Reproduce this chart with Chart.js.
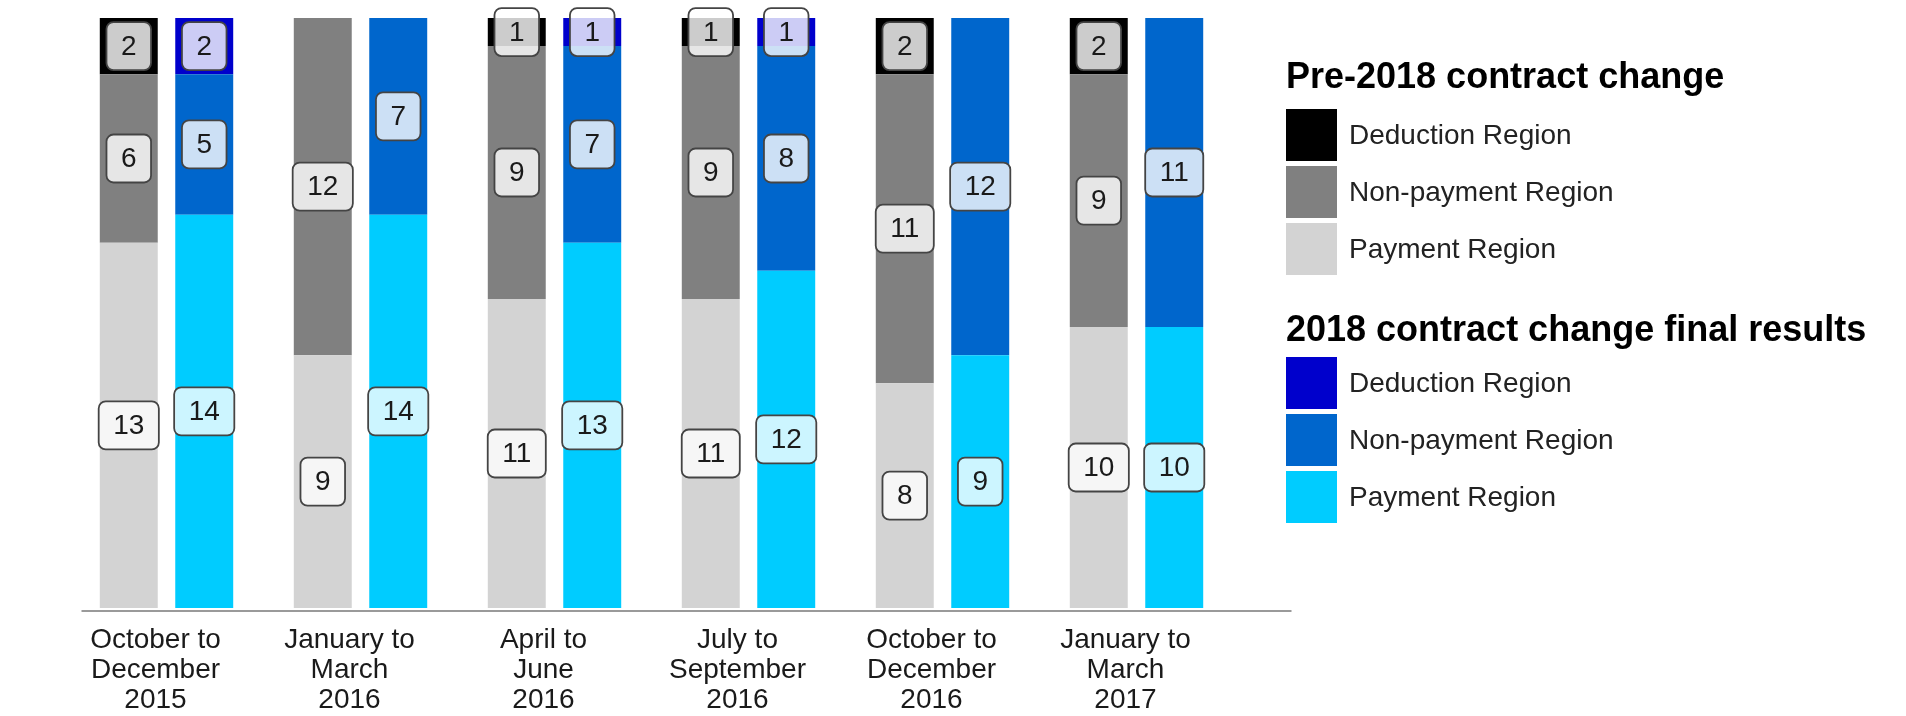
<!DOCTYPE html>
<html>
<head>
<meta charset="utf-8">
<script src="https://cdn.jsdelivr.net/npm/chart.js@4.4.1/dist/chart.umd.min.js"></script>
<style>
  html, body { margin: 0; padding: 0; background: #fff; }
  #wrap { position: relative; width: 1906px; height: 716px; }
  #legend { position: absolute; left: 1286px; top: 0; font-family: "Liberation Sans", Arial, sans-serif; color: #222; }
  .lg-title { position: absolute; left: 0; white-space: nowrap; font-weight: bold; font-size: 36px; color: #000; line-height: 40px; }
  .lg-item { position: absolute; left: 0; height: 52px; white-space: nowrap; }
  .lg-box { position: absolute; left: 0; top: 0; width: 51px; height: 52px; }
  .lg-text { position: absolute; left: 63px; top: 0; line-height: 52px; font-size: 28px; }
</style>
</head>
<body>
<div id="wrap">
  <canvas id="chart" width="1906" height="716"></canvas>
  <div id="legend"></div>
</div>
<script>
const categories = [
  ["October to", "December", "2015"],
  ["January to", "March", "2016"],
  ["April to", "June", "2016"],
  ["July to", "September", "2016"],
  ["October to", "December", "2016"],
  ["January to", "March", "2017"],
];

// Pre-2018 contract change
const prePayment = [13, 9, 11, 11, 8, 10];
const preNonPayment = [6, 12, 9, 9, 11, 9];
const preDeduction = [2, 0, 1, 1, 2, 2];

// 2018 contract change final results
const postPayment = [14, 14, 13, 12, 9, 10];
const postNonPayment = [5, 7, 7, 8, 12, 11];
const postDeduction = [2, 0, 1, 1, 0, 0];

const COLORS = {
  preDeduction: "#000000",
  preNonPayment: "#808080",
  prePayment: "#D3D3D3",
  postDeduction: "#0000CC",
  postNonPayment: "#0066CC",
  postPayment: "#00CCFF",
};

const legendGroups = [
  {
    title: "Pre-2018 contract change",
    titleY: 56,
    itemY: 109,
    items: [
      { label: "Deduction Region", color: COLORS.preDeduction },
      { label: "Non-payment Region", color: COLORS.preNonPayment },
      { label: "Payment Region", color: COLORS.prePayment },
    ],
  },
  {
    title: "2018 contract change final results",
    titleY: 309,
    itemY: 357,
    items: [
      { label: "Deduction Region", color: COLORS.postDeduction },
      { label: "Non-payment Region", color: COLORS.postNonPayment },
      { label: "Payment Region", color: COLORS.postPayment },
    ],
  },
];

function makeDataset(label, data, color, stack) {
  return {
    label: label,
    data: data,
    backgroundColor: color,
    stack: stack,
    borderWidth: 0,
    barPercentage: 0.768,
    categoryPercentage: 0.778,
  };
}

// rounded value boxes in the middle of each segment
const valueBoxes = {
  id: "valueBoxes",
  afterDatasetsDraw(chart) {
    const ctx = chart.ctx;
    ctx.save();
    ctx.font = "28px 'Liberation Sans', Arial, sans-serif";
    ctx.textAlign = "center";
    ctx.textBaseline = "middle";
    chart.data.datasets.forEach((ds, i) => {
      const meta = chart.getDatasetMeta(i);
      meta.data.forEach((bar, j) => {
        const v = ds.data[j];
        if (!v) return;
        const text = String(v);
        const w = ctx.measureText(text).width + 29;
        const h = 48;
        const cx = bar.x;
        const cy = (bar.y + bar.base) / 2;
        ctx.beginPath();
        ctx.roundRect(cx - w / 2, cy - h / 2, w, h, 7);
        ctx.fillStyle = "rgba(255,255,255,0.8)";
        ctx.fill();
        ctx.lineWidth = 1.8;
        ctx.strokeStyle = "#444";
        ctx.stroke();
        ctx.fillStyle = "#1a1a1a";
        ctx.fillText(text, cx, cy + 1);
      });
    });
    ctx.restore();
  },
};

// thin grey base line under the bars
const baseLine = {
  id: "baseLine",
  afterDatasetsDraw(chart) {
    const ctx = chart.ctx;
    const y = chart.scales.y.getPixelForValue(0) + 3;
    ctx.save();
    ctx.strokeStyle = "#9a9a9a";
    ctx.lineWidth = 2;
    ctx.beginPath();
    ctx.moveTo(chart.chartArea.left + 12, y);
    ctx.lineTo(chart.chartArea.right + 58, y);
    ctx.stroke();
    ctx.restore();
  },
};

function buildLegend() {
  const el = document.getElementById("legend");
  legendGroups.forEach((g) => {
    const t = document.createElement("div");
    t.className = "lg-title";
    t.style.top = g.titleY + "px";
    t.textContent = g.title;
    el.appendChild(t);
    g.items.forEach((it, k) => {
      const row = document.createElement("div");
      row.className = "lg-item";
      row.style.top = g.itemY + k * 57 + "px";
      const box = document.createElement("div");
      box.className = "lg-box";
      box.style.background = it.color;
      const txt = document.createElement("div");
      txt.className = "lg-text";
      txt.textContent = it.label;
      row.appendChild(box);
      row.appendChild(txt);
      el.appendChild(row);
    });
  });
}

function initChart() {
  buildLegend();
  const ctx = document.getElementById("chart");
  new Chart(ctx, {
    type: "bar",
    data: {
      labels: categories,
      datasets: [
        makeDataset("Pre Payment Region", prePayment, COLORS.prePayment, "pre"),
        makeDataset("Pre Non-payment Region", preNonPayment, COLORS.preNonPayment, "pre"),
        makeDataset("Pre Deduction Region", preDeduction, COLORS.preDeduction, "pre"),
        makeDataset("2018 Payment Region", postPayment, COLORS.postPayment, "post"),
        makeDataset("2018 Non-payment Region", postNonPayment, COLORS.postNonPayment, "post"),
        makeDataset("2018 Deduction Region", postDeduction, COLORS.postDeduction, "post"),
      ],
    },
    options: {
      responsive: false,
      animation: false,
      layout: {
        padding: { left: 69.5, right: 672.5, top: 18, bottom: 0 },
      },
      plugins: {
        legend: { display: false },
        tooltip: { enabled: false },
      },
      scales: {
        x: {
          stacked: true,
          grid: { display: false, drawTicks: false },
          border: { display: false },
          ticks: {
            color: "#1a1a1a",
            padding: 17,
            labelOffset: -11,
            maxRotation: 0,
            autoSkip: false,
            font: { family: "'Liberation Sans', Arial, sans-serif", size: 28, lineHeight: 1.07 },
          },
          afterFit(scale) {
            scale.height = 108;
          },
        },
        y: {
          stacked: true,
          display: false,
          min: 0,
          max: 21,
        },
      },
    },
    plugins: [baseLine, valueBoxes],
  });
}

document.addEventListener("DOMContentLoaded", initChart);
</script>
</body>
</html>
